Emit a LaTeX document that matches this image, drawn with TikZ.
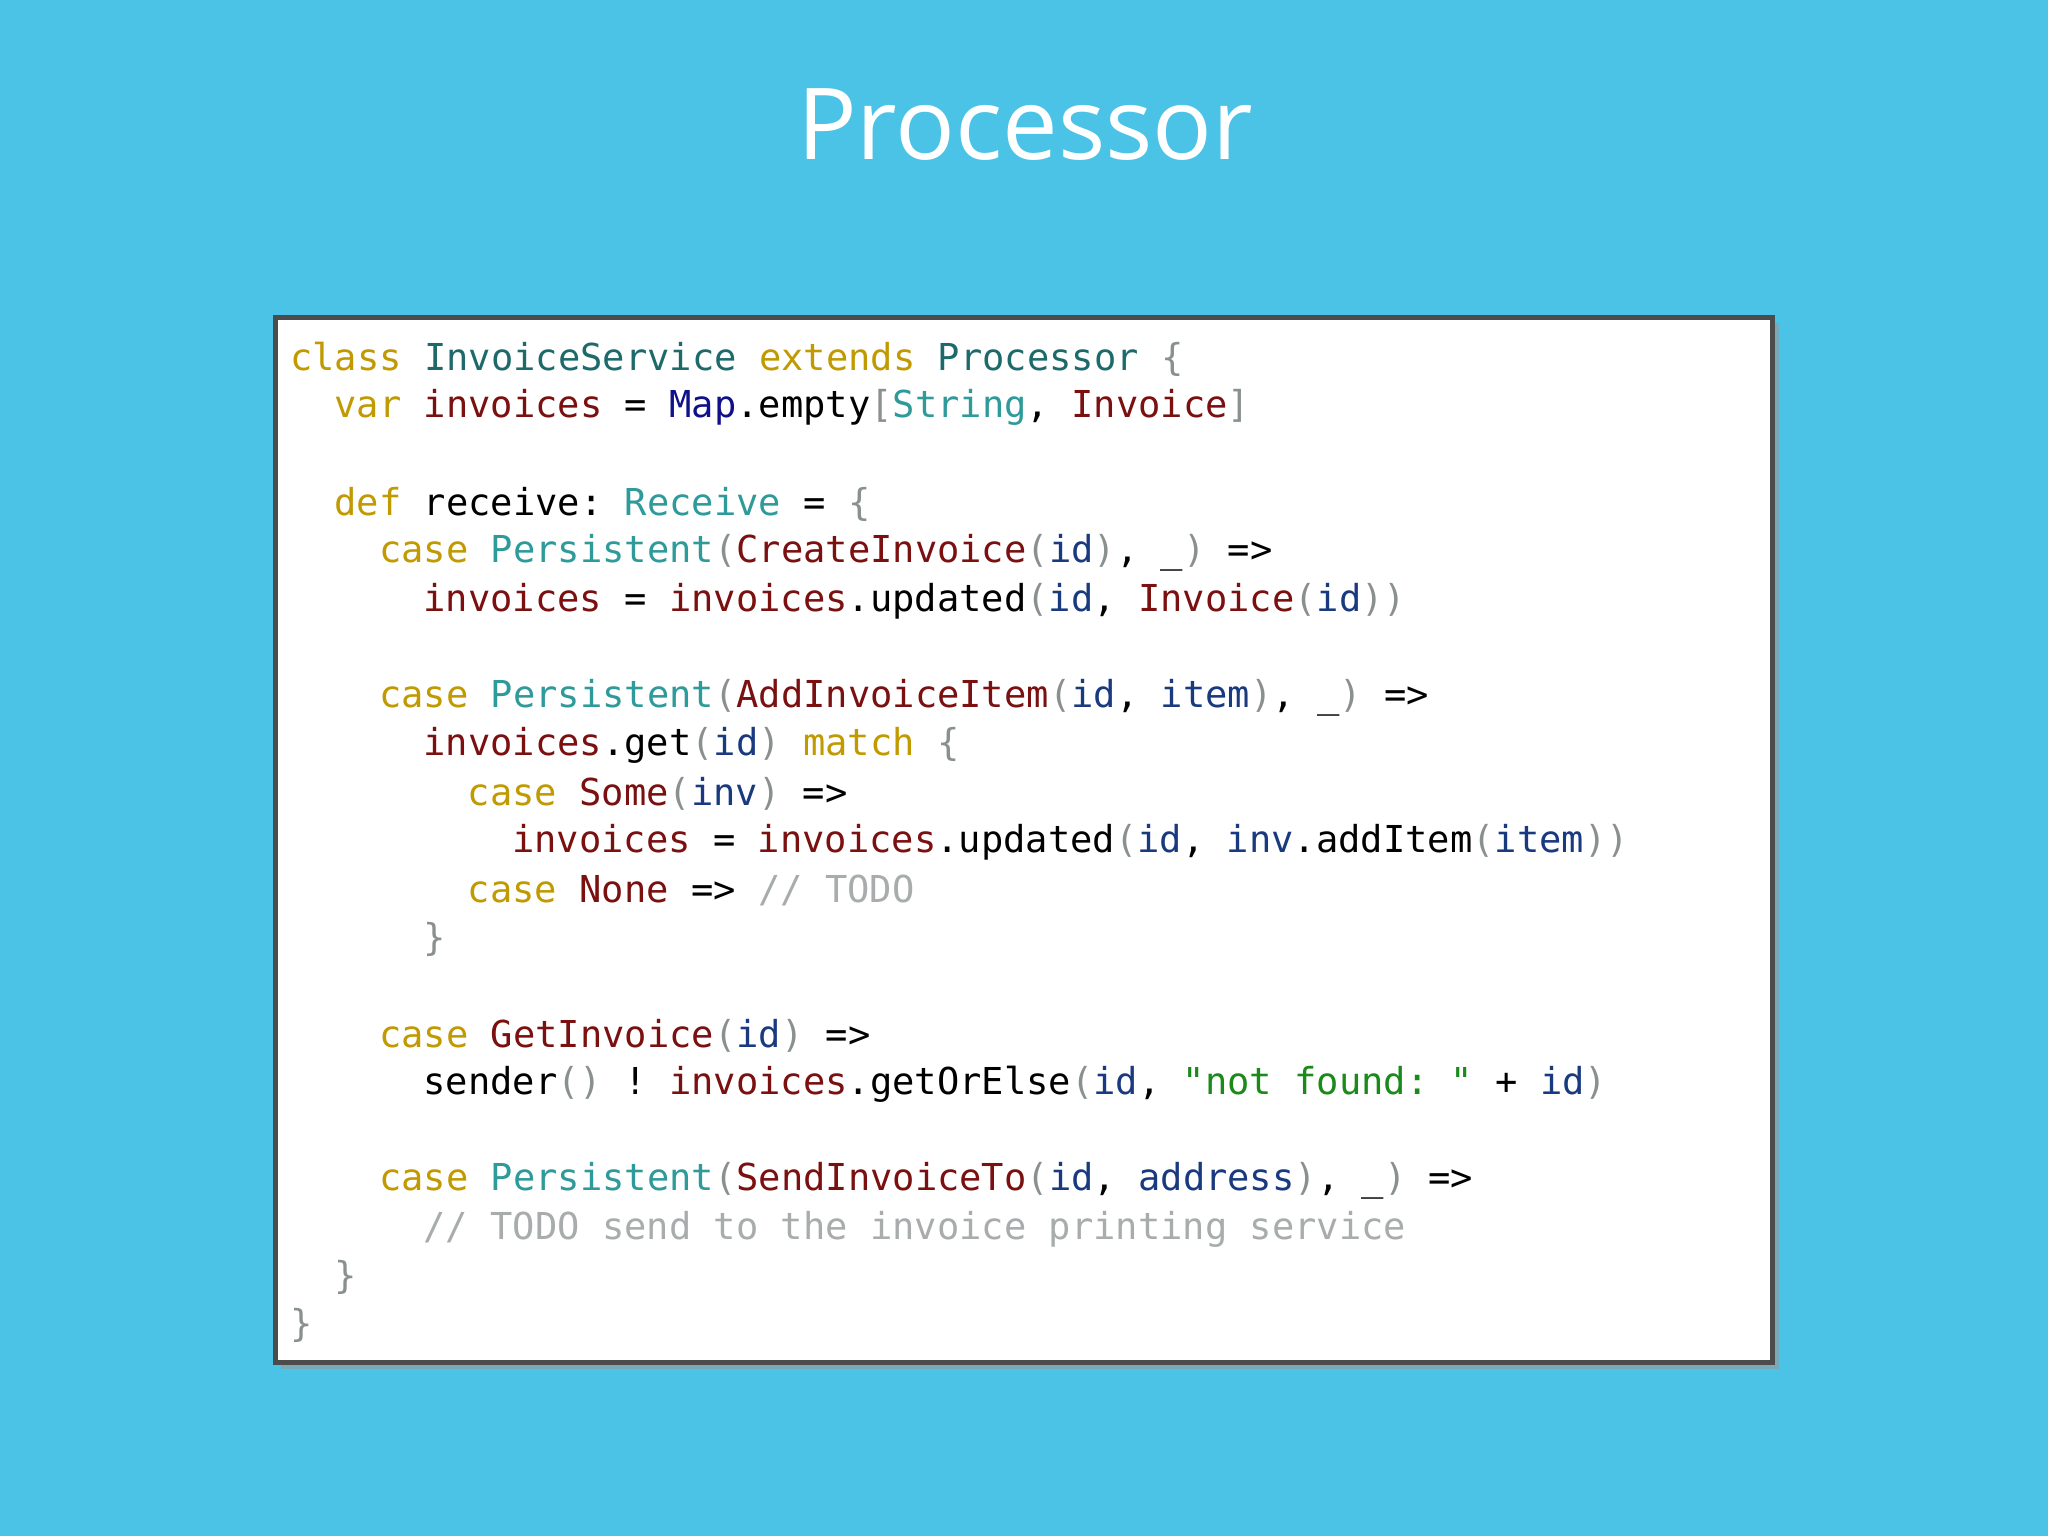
\documentclass[tikz,border=0pt]{standalone}
\usepackage{fontspec}
\setmainfont{Open Sans}
\setmonofont{DejaVu Sans Mono}
\definecolor{bg}{HTML}{4BC3E6}
\definecolor{kwc}{HTML}{C09A00}
\definecolor{tyc}{HTML}{2E9A9A}
\definecolor{tdc}{HTML}{1E6A6A}
\definecolor{rdc}{HTML}{7A1010}
\definecolor{idc}{HTML}{1A3A80}
\definecolor{mapc}{HTML}{10108A}
\definecolor{grc}{HTML}{8A9090}
\definecolor{stc}{HTML}{1A8A1A}
\definecolor{cmc}{HTML}{A8ACAC}
\newcommand{\kw}[1]{\textcolor{kwc}{#1}}
\newcommand{\ty}[1]{\textcolor{tyc}{#1}}
\newcommand{\td}[1]{\textcolor{tdc}{#1}}
\newcommand{\rd}[1]{\textcolor{rdc}{#1}}
\newcommand{\ids}[1]{\textcolor{idc}{#1}}
\newcommand{\gr}[1]{\textcolor{grc}{#1}}
\newcommand{\cm}[1]{\textcolor{cmc}{#1}}
\begin{document}
\begin{tikzpicture}[x=1pt,y=-1pt,
  cl/.style={anchor=west,inner sep=0pt,font=\ttfamily\fontsize{28.4}{37}\selectfont,text=black}]
\fill[bg] (0,0) rectangle (1568,1176);
\useasboundingbox (0,0) rectangle (1568,1176);
\node[font=\fontsize{76}{90}\selectfont,text=white] (title) at (785,95) {Processor};
\fill[black!40,opacity=0.6] (215,247) rectangle (1362,1048);
\draw[line width=3.5pt,draw=black!70,fill=white] (211,243) rectangle (1357,1043);
\def\L#1{222+34*#1}
\node[cl] (l1) at (222,275) {\kw{class} \td{InvoiceService} \kw{extends} \td{Processor} \gr{\{}};
\node[cl] (l2) at (256,312) {\kw{var} \rd{invoices} = \textcolor{mapc}{Map}.empty\gr{[}\ty{String}, \rd{Invoice}\gr{]}};
\node[cl] (l4) at (256,386) {\kw{def} receive: \ty{Receive} = \gr{\{}};
\node[cl] (l5) at (290,423) {\kw{case} \ty{Persistent}\gr{(}\rd{CreateInvoice}\gr{(}\ids{id}\gr{)}, \_\gr{)} =>};
\node[cl] (l6) at (324,460) {\rd{invoices} = \rd{invoices}.updated\gr{(}\ids{id}, \rd{Invoice}\gr{(}\ids{id}\gr{))}};
\node[cl] (l8) at (290,534) {\kw{case} \ty{Persistent}\gr{(}\rd{AddInvoiceItem}\gr{(}\ids{id}, \ids{item}\gr{)}, \_\gr{)} =>};
\node[cl] (l9) at (324,571) {\rd{invoices}.get\gr{(}\ids{id}\gr{)} \kw{match} \gr{\{}};
\node[cl] (l10) at (358,608) {\kw{case} \rd{Some}\gr{(}\ids{inv}\gr{)} =>};
\node[cl] (l11) at (392,645) {\rd{invoices} = \rd{invoices}.updated\gr{(}\ids{id}, \ids{inv}.addItem\gr{(}\ids{item}\gr{))}};
\node[cl] (l12) at (358,682) {\kw{case} \rd{None} => \cm{// TODO}};
\node[cl] (l13) at (324,719) {\gr{\}}};
\node[cl] (l15) at (290,793) {\kw{case} \rd{GetInvoice}\gr{(}\ids{id}\gr{)} =>};
\node[cl] (l16) at (324,830) {sender\gr{()} ! \rd{invoices}.getOrElse\gr{(}\ids{id}, \textcolor{stc}{"not found: "} + \ids{id}\gr{)}};
\node[cl] (l18) at (290,904) {\kw{case} \ty{Persistent}\gr{(}\rd{SendInvoiceTo}\gr{(}\ids{id}, \ids{address}\gr{)}, \_\gr{)} =>};
\node[cl] (l19) at (324,941) {\cm{// TODO send to the invoice printing service}};
\node[cl] (l20) at (256,978) {\gr{\}}};
\node[cl] (l21) at (222,1015) {\gr{\}}};
\end{tikzpicture}
\end{document}
